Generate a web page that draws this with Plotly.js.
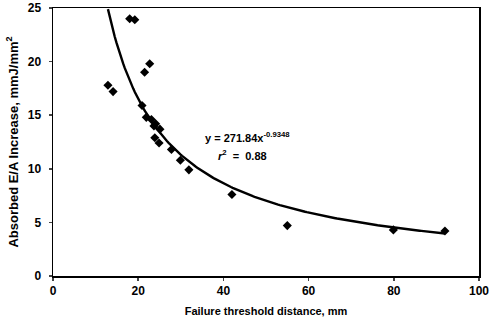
<!DOCTYPE html>
<html><head><meta charset="utf-8">
<script src="https://cdn.plot.ly/plotly-3.0.1.min.js"></script>
<style>html,body{margin:0;padding:0;background:#fff}#c{width:491px;height:327px}</style>
</head><body><div id="c"></div>
<script>
const xData = [12.9, 14.1, 18.0, 19.2, 21.5, 22.7, 20.9, 21.9, 23.1, 23.7, 24.1, 25.1, 23.9, 24.9, 27.8, 29.9, 31.9, 42.0, 55.0, 79.9, 92.0];
const yData = [17.8, 17.2, 24.0, 23.9, 19.0, 19.8, 15.9, 14.8, 14.6, 14.0, 14.2, 13.7, 12.9, 12.4, 11.8, 10.8, 9.9, 7.6, 4.7, 4.3, 4.2];
const fitCoef = [271.84, -0.9348];
const fitRange = [12.9, 92];
const xTicks = [0, 20, 40, 60, 80, 100];
const yTicks = [0, 5, 10, 15, 20, 25];

const fx = [], fy = [];
for (let i = 0; i <= 200; i++) {
  const x = fitRange[0] + (fitRange[1] - fitRange[0]) * i / 200;
  fx.push(x); fy.push(fitCoef[0] * Math.pow(x, fitCoef[1]));
}
const F = 'Liberation Sans, Arial, sans-serif';
const data = [
  {x: fx, y: fy, mode: 'lines', line: {color: '#000', width: 2.4}, hoverinfo: 'skip'},
  {x: xData, y: yData, mode: 'markers', marker: {symbol: 'diamond', size: 7, color: '#000'}}
];
const layout = {
  width: 491, height: 327, showlegend: false,
  margin: {l: 53, r: 12, t: 8, b: 51},
  paper_bgcolor: '#fff', plot_bgcolor: '#fff',
  font: {family: F, color: '#000', size: 11, weight: 'bold'},
  xaxis: {range: [0, 100], tickvals: xTicks, ticktext: xTicks.map(String), showgrid: false, zeroline: false,
    showline: true, mirror: true, linecolor: '#000', linewidth: 1.5, ticks: 'outside', ticklen: 3, tickwidth: 1.5,
    tickfont: {family: F, size: 12, weight: 'bold'},
    title: {text: 'Failure threshold distance, mm', font: {family: F, size: 11, weight: 'bold'}, standoff: 10}},
  yaxis: {range: [0, 25], tickvals: yTicks, ticktext: yTicks.map(String), showgrid: false, zeroline: false,
    showline: true, mirror: true, linecolor: '#000', linewidth: 1.5, ticks: 'outside', ticklen: 3, tickwidth: 1.5,
    ticklabelstandoff: 5,
    tickfont: {family: F, size: 12, weight: 'bold'},
    title: {text: 'Absorbed E/A Increase, mmJ/mm<sup>2</sup>', font: {family: F, size: 13, weight: 'bold'}, standoff: 6}},
  annotations: [
    {x: 35.1, y: 13.0, xref: 'x', yref: 'y', xanchor: 'left', yanchor: 'middle', showarrow: false,
     text: 'y = 271.84x<sup>-0.9348</sup>', font: {family: F, size: 11, weight: 'bold'}},
    {x: 38.2, y: 11.3, xref: 'x', yref: 'y', xanchor: 'left', yanchor: 'middle', showarrow: false,
     text: '<i>r</i><sup>2</sup>  =  0.88', font: {family: F, size: 11, weight: 'bold'}}
  ]
};
Plotly.newPlot('c', data, layout, {staticPlot: true, displayModeBar: false});
</script></body></html>
